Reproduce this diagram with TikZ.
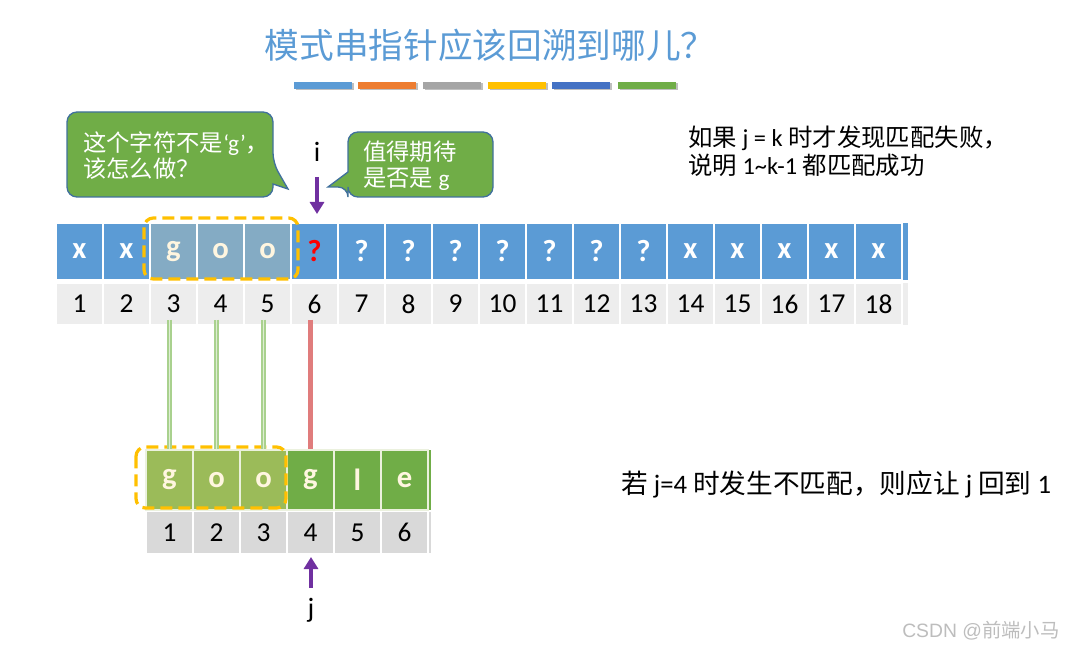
\documentclass[tikz,border=0pt]{standalone}
\usepackage{fontspec}
\setmainfont{Carlito}[Numbers=Lining]
\newfontfamily\cjk{Noto Sans CJK SC}
\usetikzlibrary{arrows.meta}
\definecolor{cblue}{HTML}{5B9BD5}
\definecolor{hblue}{HTML}{84ABC4}
\definecolor{corange}{HTML}{ED7D31}
\definecolor{cgray}{HTML}{A5A5A5}
\definecolor{cyellow}{HTML}{FFC000}
\definecolor{cdblue}{HTML}{4472C4}
\definecolor{dgreen}{HTML}{70AD47}
\definecolor{lgreen}{HTML}{9BBB59}
\definecolor{linegreen}{HTML}{A9D18E}
\definecolor{redline}{HTML}{E07C7C}
\definecolor{ppurple}{HTML}{7030A0}
\definecolor{ngray}{HTML}{EDEDED}
\definecolor{mgray}{HTML}{D9D9D9}
\definecolor{cream}{HTML}{FFF6E0}
\definecolor{cborder}{HTML}{41719C}
\definecolor{wmark}{HTML}{BDBDBD}
\begin{document}
\begin{tikzpicture}[x=0.75pt,y=-0.75pt,
  tcell/.style={rectangle, draw=white, line width=1pt, minimum width=35.25pt, minimum height=42.75pt, inner sep=0pt, font=\fontsize{23}{23}\selectfont\bfseries},
  ncell/.style={rectangle, draw=white, line width=1pt, minimum width=35.25pt, minimum height=31.5pt, inner sep=0pt, font=\fontsize{20.5}{21}\selectfont},
  pcell/.style={rectangle, draw=white!80!lgreen, line width=1pt, minimum width=35.25pt, minimum height=45pt, inner sep=0pt, text=cream, font=\fontsize{23}{23}\selectfont\bfseries},
  dashbox/.style={draw=cyellow, line width=2.4pt, dash pattern=on 9pt off 4.5pt, rounded corners=7pt},
  callout/.style={fill=dgreen, draw=cborder, line width=1pt},
  calltext/.style={text=white, align=left, anchor=west, inner sep=0pt, font=\fontsize{17.5}{19.5}\selectfont},
  ptr/.style={draw=ppurple, line width=3pt, -{Triangle[width=10.5pt,length=9pt]}},
  match/.style={draw=linegreen, line width=1.3pt, double=white!60!linegreen, double distance=1pt},
  mismatch/.style={draw=redline, line width=3.75pt},
  note/.style={anchor=west, inner sep=0pt, font=\fontsize{18.3}{20}\selectfont},
  bignote/.style={anchor=west, inner sep=0pt, font=\fontsize{20}{22}\selectfont}
]
\useasboundingbox (0,0) rectangle (1065,649);

% title
\node[text=cblue, font=\fontsize{26}{26}\selectfont\cjk] (title) at (490,45) {模式串指针应该回溯到哪儿？};
% colour bars
\foreach \x/\c in {294/cblue,358/corange,423/cgray,488/cyellow,552/cdblue,618/dgreen}{
  \fill[black!25] (\x+1.5,83.5) rectangle (\x+59.5,90.5);
  \fill[\c] (\x,82) rectangle (\x+58,89);
}

% main string row
\foreach \k/\c/\f/\tc in {1/x/cblue/white,2/x/cblue/white,3/g/hblue/cream,4/o/hblue/cream,5/o/hblue/cream,6/?/cblue/red,7/?/cblue/white,8/?/cblue/white,9/?/cblue/white,10/?/cblue/white,11/?/cblue/white,12/?/cblue/white,13/?/cblue/white,14/x/cblue/white,15/x/cblue/white,16/x/cblue/white,17/x/cblue/white,18/x/cblue/white}{
  \node[tcell, fill=\f, text=\tc] (t\k) at ({56+47*\k-23.5},251.5) {\c};
  \node[ncell, fill=ngray] (n\k) at ({56+47*\k-23.5},304) {\k};
}
\fill[cblue] (903,223) rectangle (908,280);
\fill[ngray] (903,283) rectangle (908,325);
\draw[dashbox] (144,218) rectangle (298,279);

% pattern row
\foreach \k/\c/\f in {1/g/lgreen,2/o/lgreen,3/o/lgreen,4/g/dgreen,5/l/dgreen,6/e/dgreen}{
  \node[pcell, fill=\f] (p\k) at ({146+47*\k-23.5},480) {\c};
  \node[ncell, fill=mgray] (q\k) at ({146+47*\k-23.5},532.5) {\k};
}
\fill[dgreen] (428.5,450) rectangle (431,510);
\fill[mgray] (428.5,512) rectangle (431,553);
\draw[dashbox] (136,447) rectangle (286,508);

% connectors
\draw[match] (p1.north |- n3.south) ++(0,-6) -- (p1.north);
\draw[match] (p2.north |- n4.south) ++(0,-6) -- (p2.north);
\draw[match] (p3.north |- n5.south) ++(0,-6) -- (p3.north);
\draw[mismatch] (p4.north |- n6.south) ++(0,-6) -- (p4.north);

% pointer i
\node[font=\fontsize{21}{21}\selectfont] (ilab) at (317,152) {i};
\coordinate (iS) at (317,177);
\coordinate (iE) at (317,214);
\draw[ptr] (iS) -- (iE);
% pointer j
\node[font=\fontsize{21}{21}\selectfont] (jlab) at (311,610) {j};
\coordinate (jS) at (311,588);
\coordinate (jE) at (311,557);
\draw[ptr] (jS) -- (jE);

% callouts
\draw[callout] (67,150) [rounded corners=7.5pt] -- (67,112) -- (273,112) -- (273,163) [sharp corners] -- (288,189) -- (273,184) [rounded corners=7.5pt] -- (273,197) -- (67,197) -- cycle;
\node[calltext] (c1) at (83,156) {{\cjk 这个字符不是}‘g’{\cjk ，}\\{\cjk 该怎么做？}};
\draw[callout] (493,165) [rounded corners=7.5pt] -- (493,197) -- (348,197) -- (348,187) [sharp corners] -- (328,187) -- (348,172) [rounded corners=7.5pt] -- (348,132) -- (493,132) -- cycle;
\node[calltext] (c2) at (363,166) {{\cjk 值得期待}\\{\cjk 是否是} g};

% notes
\node[note] (note1) at (688,138) {{\cjk 如果} j = k {\cjk 时才发现匹配失败，}};
\node[note] (note2) at (688,165) {{\cjk 说明} 1\textasciitilde k-1 {\cjk 都匹配成功}};
\node[bignote] (note3) at (621,484) {{\cjk 若} j=4 {\cjk 时发生不匹配，则应让} j {\cjk 回到} 1};

% watermark
\node[anchor=west, inner sep=0pt, text=wmark, font=\fontsize{14.5}{14.5}\selectfont] (wm) at (902,631) {\fontspec{Liberation Sans}CSDN @{\cjk 前端小马}};
\end{tikzpicture}
\end{document}
